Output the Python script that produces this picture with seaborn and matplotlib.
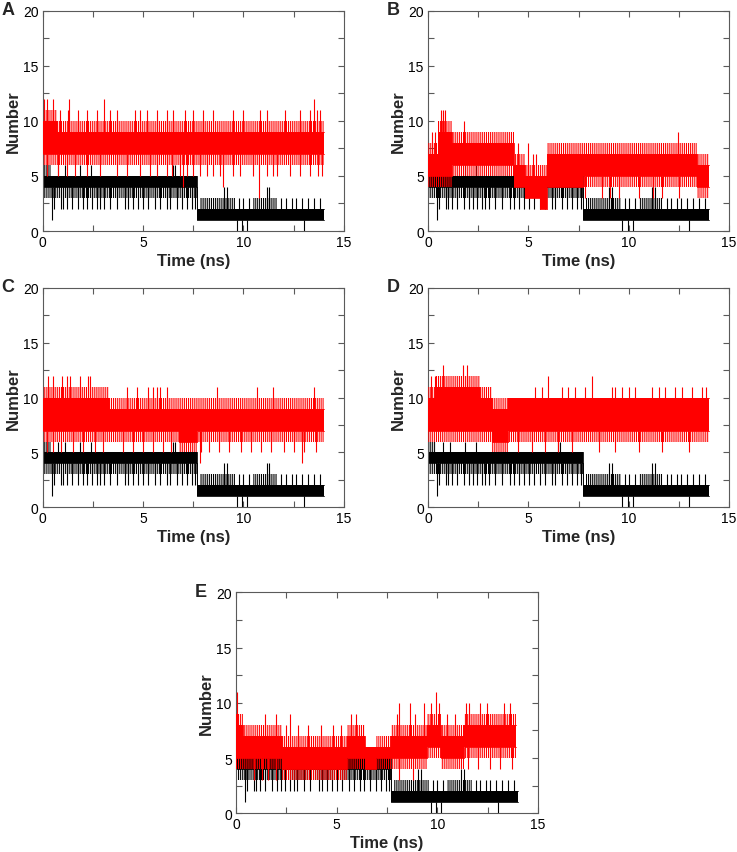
import numpy as np
import matplotlib
matplotlib.use("Agg")
import matplotlib.pyplot as plt
from matplotlib.ticker import MultipleLocator
import seaborn as sns
import pandas as pd

# ---------------- data ----------------
# Black series (same in every panel): step segments, dense core, hatched fringe, single spikes
K_edges   = [0.0, 0.4, 7.7, 7.85, 9.6, 10.5, 11.7, 14.0]
K_core_lo = [4, 4, 1, 1, 1, 1, 1]
K_core_hi = [5, 5, 2, 2, 2, 2, 2]
K_fr_lo   = [3, 3, 1, 1, 1, 1, 1]
K_fr_hi   = [6, 5, 2, 3, 2, 3, 2]
K_up_t = [0.75, 1.1, 1.85, 2.4, 6.5, 6.6, 9.04, 9.17, 11.16, 11.3,
          9.8, 10.0, 10.3, 11.9, 12.1, 12.4, 12.6, 12.9, 13.2, 13.5, 13.8]
K_up_v = [6, 6, 6, 6, 6, 6, 4, 4, 4, 4,
          3, 3, 3, 3, 3, 3, 3, 3, 3, 3, 3]
K_dn_t = [0.45, 0.55, 0.9, 1.0, 1.2, 1.45, 1.78, 2.03, 2.23, 2.44, 2.69, 2.86, 3.03,
          3.36, 3.69, 4.11, 4.27, 4.52, 4.77, 5.02, 5.27, 5.6, 5.85, 6.18, 6.35,
          6.68, 6.93, 7.18, 7.43, 7.6, 9.67, 9.95, 10.2, 13.02]
K_dn_v = [1, 2, 2, 2, 2, 2, 2, 2, 2, 2, 2, 2, 2,
          2, 2, 2, 2, 2, 2, 2, 2, 2, 2, 2, 2,
          2, 2, 2, 2, 2, 0, 0, 0, 0]

# Panel A (red)
A_edges   = [0.0, 0.7, 14.0]
A_core_lo = [7, 7]
A_core_hi = [10, 9]
A_fr_lo   = [6, 6]
A_fr_hi   = [11, 10]
A_up_t = [0.05, 0.2, 0.5, 1.3, 3.06, 13.5, 0.86, 1.28, 1.78, 2.23, 2.69, 3.36, 3.69,
          4.6, 4.85, 5.18, 5.68, 6.18, 6.51, 7.09, 7.51, 8.0, 8.5, 9.5, 10.0, 10.83,
          11.16, 12.08, 12.82, 13.32, 13.65, 13.82]
A_up_v = [12, 12, 12, 12, 12, 12, 11, 11, 11, 11, 11, 11, 11,
          11, 11, 11, 11, 11, 11, 11, 11, 11, 11, 11, 11, 11,
          11, 11, 11, 11, 11, 11]
A_dn_t = [0.2, 0.78, 1.2, 1.61, 2.19, 2.86, 3.69, 4.19, 4.85, 5.35, 5.68, 6.18, 6.43,
          6.84, 7.18, 7.51, 7.84, 8.17, 8.5, 8.84, 9.5, 9.83, 10.5, 11.16, 11.5,
          11.66, 12.33, 12.82, 13.32, 13.74, 13.9, 6.98, 9.0, 10.8]
A_dn_v = [5, 5, 5, 5, 5, 5, 5, 5, 5, 5, 5, 5, 5,
          5, 5, 5, 5, 5, 5, 5, 5, 5, 5, 5, 5,
          5, 5, 5, 5, 5, 5, 4, 4, 3]

# Panel B (red)
B_edges   = [0.0, 0.5, 1.2, 4.3, 4.85, 5.6, 5.95, 7.7, 13.4, 14.0]
B_core_lo = [5, 5, 6, 4, 3, 2, 4, 5, 4]
B_core_hi = [7, 9, 8, 6, 5, 5, 7, 7, 6]
B_fr_lo   = [4, 4, 5, 4, 3, 2, 4, 4, 3]
B_fr_hi   = [8, 10, 9, 7, 6, 6, 8, 8, 7]
B_up_t = [0.2, 0.35, 0.65, 0.75, 0.85, 1.8, 4.5, 5.0, 5.25, 5.4, 12.45]
B_up_v = [9, 9, 11, 11, 11, 10, 8, 8, 7, 7, 9]
B_dn_t = [7.84, 8.67, 9.07, 9.5, 10.5, 11.2, 11.66, 12.49]
B_dn_v = [3, 3, 3, 3, 3, 3, 3, 3]

# Panel C (red)
C_edges   = [0.0, 3.3, 6.8, 7.7, 14.0]
C_core_lo = [7, 7, 6, 7]
C_core_hi = [10, 9, 9, 9]
C_fr_lo   = [6, 6, 5, 6]
C_fr_hi   = [11, 10, 10, 10]
C_up_t = [0.28, 0.53, 0.95, 1.2, 1.36, 1.86, 2.27, 2.36,
          4.19, 4.68, 5.27, 5.51, 5.68, 5.85, 6.18, 8.67, 10.66, 11.5, 13.5]
C_up_v = [12, 12, 12, 12, 12, 12, 12, 12,
          11, 11, 11, 11, 11, 11, 11, 11, 11, 11, 11]
C_dn_t = [0.2, 0.5, 0.9, 1.5, 2.0, 2.6, 3.0, 4.0, 4.5, 5.0, 5.5, 6.0, 6.4,
          7.9, 8.3, 8.8, 9.3, 9.9, 10.4, 10.9, 11.4, 12.0, 12.5, 13.0, 13.6, 7.84, 12.9]
C_dn_v = [5, 5, 5, 5, 5, 5, 5, 5, 5, 5, 5, 5, 5,
          5, 5, 5, 5, 5, 5, 5, 5, 5, 5, 5, 5, 4, 4]

# Panel D (red)
D_edges   = [0.0, 0.4, 2.6, 3.2, 4.0, 14.0]
D_core_lo = [7, 7, 7, 6, 7]
D_core_hi = [10, 11, 10, 9, 10]
D_fr_lo   = [6, 6, 6, 5, 6]
D_fr_hi   = [11, 12, 11, 10, 10]
D_up_t = [0.17, 0.33, 0.75, 1.75, 1.92, 5.33, 5.67, 6.67, 7.0, 7.33, 7.83, 9.17, 9.33,
          9.67, 10.0, 10.33, 11.17, 11.5, 11.83, 12.33, 12.67, 13.17, 13.67, 13.83, 6.0, 8.17]
D_up_v = [12, 12, 13, 13, 13, 11, 11, 11, 11, 11, 11, 11, 11,
          11, 11, 11, 11, 11, 11, 11, 11, 11, 11, 11, 12, 12]
D_dn_t = [4.5, 5.17, 5.83, 6.5, 7.17, 8.5, 9.33, 10.5, 11.67, 13.0]
D_dn_v = [5, 5, 5, 5, 5, 5, 5, 5, 5, 5]

# Panel E (red)
E_edges   = [0.0, 0.35, 2.3, 5.5, 6.4, 6.95, 7.7, 9.5, 10.2, 11.3, 13.9]
E_core_lo = [5, 5, 4, 5, 4, 5, 5, 6, 5, 6]
E_core_hi = [8, 7, 6, 7, 6, 6, 7, 8, 7, 8]
E_fr_lo   = [4, 4, 3, 4, 4, 4, 4, 5, 4, 5]
E_fr_hi   = [9, 8, 7, 8, 6, 7, 8, 9, 8, 9]
E_up_t = [0.05, 1.43, 2.0, 2.5, 3.1, 3.6, 4.2, 4.8, 5.2, 2.66, 5.7, 5.95,
          8.0, 8.9, 8.09, 8.65, 9.32, 9.7, 10.1, 9.93, 10.5, 10.9,
          11.4, 11.55, 12.1, 12.45, 13.3, 13.6]
E_up_v = [11, 9, 9, 8, 8, 8, 8, 8, 8, 9, 9, 9,
          9, 9, 10, 10, 10, 10, 10, 11, 9, 9,
          10, 10, 10, 10, 10, 10]
E_dn_t = [0.9, 1.3, 1.6, 2.0, 8.1, 8.8, 11.5, 12.0, 12.6, 13.1, 13.7]
E_dn_v = [3, 3, 3, 3, 3, 3, 4, 4, 4, 4, 4]

panel_letters = ["A", "B", "C", "D", "E"]
x_ticks = [0, 5, 10, 15]
y_ticks = [0, 5, 10, 15, 20]

# ---------------- styling ----------------
sns.set_style("ticks")
plt.rcParams["font.family"] = ["Liberation Sans", "DejaVu Sans"]
plt.rcParams["hatch.linewidth"] = 0.8

W, H = 737, 853
fig = plt.figure(figsize=(W / 100, H / 100), dpi=100)

# axes boxes in pixels: left, top, width, height
boxes = {
    "A": (42.7, 11.7, 301, 220.3),
    "B": (428.0, 11.7, 301, 220.3),
    "C": (42.7, 289.0, 301, 219.3),
    "D": (428.0, 289.0, 301, 219.3),
    "E": (236.0, 593.3, 302, 221.0),
}

red_data = {
    "A": (A_edges, A_core_lo, A_core_hi, A_fr_lo, A_fr_hi, A_up_t, A_up_v, A_dn_t, A_dn_v),
    "B": (B_edges, B_core_lo, B_core_hi, B_fr_lo, B_fr_hi, B_up_t, B_up_v, B_dn_t, B_dn_v),
    "C": (C_edges, C_core_lo, C_core_hi, C_fr_lo, C_fr_hi, C_up_t, C_up_v, C_dn_t, C_dn_v),
    "D": (D_edges, D_core_lo, D_core_hi, D_fr_lo, D_fr_hi, D_up_t, D_up_v, D_dn_t, D_dn_v),
    "E": (E_edges, E_core_lo, E_core_hi, E_fr_lo, E_fr_hi, E_up_t, E_up_v, E_dn_t, E_dn_v),
}
black_data = (K_edges, K_core_lo, K_core_hi, K_fr_lo, K_fr_hi, K_up_t, K_up_v, K_dn_t, K_dn_v)


def seg_value(edges, vals, t):
    i = np.clip(np.searchsorted(edges, t, side="right") - 1, 0, len(vals) - 1)
    return np.asarray(vals)[i]


def draw_series(ax, data, color, z):
    edges, clo, chi, flo, fhi, ut, uv, dt, dv = data
    e = np.asarray(edges, float)
    ext = lambda v: np.append(np.asarray(v, float), v[-1])
    # hatched fringe (frequent single-frame excursions)
    ax.fill_between(e, ext(flo), ext(fhi), step="post", facecolor="none",
                    edgecolor=color, hatch="||||||||", linewidth=0, zorder=z)
    # dense core
    ax.fill_between(e, ext(clo), ext(chi), step="post", facecolor=color,
                    edgecolor="none", linewidth=0, zorder=z + 0.1)
    df = pd.DataFrame({"t": e, "hi": ext(chi), "lo": ext(clo)})
    sns.lineplot(data=df, x="t", y="hi", drawstyle="steps-post", color=color,
                 lw=0.6, ax=ax, zorder=z + 0.1)
    sns.lineplot(data=df, x="t", y="lo", drawstyle="steps-post", color=color,
                 lw=0.6, ax=ax, zorder=z + 0.1)
    # rare spikes
    ut = np.asarray(ut, float); dt = np.asarray(dt, float)
    ax.vlines(ut, seg_value(edges, chi, ut), uv, color=color, lw=0.8, zorder=z + 0.2)
    ax.vlines(dt, dv, seg_value(edges, clo, dt), color=color, lw=0.8, zorder=z + 0.2)


frame_col = "#5a5a5a"
for L in panel_letters:
    l, t, w, h = boxes[L]
    ax = fig.add_axes([l / W, 1 - (t + h) / H, w / W, h / H])
    draw_series(ax, black_data, "black", 2)
    draw_series(ax, red_data[L], "#ff0000", 3)
    ax.set_xlim(0, 15)
    ax.set_ylim(0, 20)
    ax.set_xticks(x_ticks)
    ax.set_yticks(y_ticks)
    ax.xaxis.set_minor_locator(MultipleLocator(2.5))
    ax.yaxis.set_minor_locator(MultipleLocator(2.5))
    ax.tick_params(which="both", direction="in", top=True, right=True,
                   color=frame_col, width=0.8, labelsize=10, pad=3, labelcolor="black")
    ax.tick_params(which="major", length=4.5)
    ax.tick_params(which="minor", length=4.0)
    for s in ax.spines.values():
        s.set_color(frame_col)
        s.set_linewidth(0.8)
    ax.set_xlabel("Time (ns)", fontsize=12, fontweight="bold")
    ax.set_ylabel("Number", fontsize=12, fontweight="bold")
    ax.xaxis.set_label_coords(0.5, -0.10)
    ax.yaxis.set_label_coords(-0.072, 0.5)
    fig.text((l - 41) / W, 1 - (t - 1) / H, L, fontsize=13, fontweight="bold",
             ha="left", va="center")

fig.savefig("out.png", dpi=100)
